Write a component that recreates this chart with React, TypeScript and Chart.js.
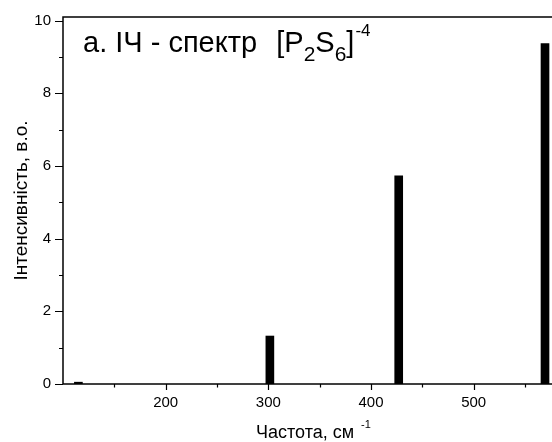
import React, { useEffect, useRef } from 'react';
import { Chart, registerables } from 'chart.js';

Chart.register(...registerables);

const frequencies = [115, 301.5, 427, 569.5];
const intensities = [0.05, 1.32, 5.73, 9.37];
const xMajorTicks = [200, 300, 400, 500];
const xMinorTicks = [150, 250, 350, 450, 550];
const yMajorTicks = [0, 2, 4, 6, 8, 10];
const yMinorTicks = [1, 3, 5, 7, 9];
const xTitle = 'Частота, см';
const xTitleSup = '-1';
const yTitle = 'Інтенсивність, в.о.';
const titleParts: { text: string; kind: 'n' | 'sub' | 'sup' }[] = [
  { text: 'а. ІЧ - спектр  ', kind: 'n' },
  { text: '[P', kind: 'n' },
  { text: '2', kind: 'sub' },
  { text: 'S', kind: 'n' },
  { text: '6', kind: 'sub' },
  { text: ']', kind: 'n' },
  { text: '-4', kind: 'sup' },
];

const FONT = '"Liberation Sans", Arial, sans-serif';

const decorPlugin = {
  id: 'decor',
  afterDraw(chart: any) {
    const ctx = chart.ctx;
    const area = chart.chartArea;
    const xs = chart.scales.x;
    const ys = chart.scales.y;
    ctx.save();
    ctx.strokeStyle = '#000';
    ctx.lineWidth = 1.5;
    ctx.strokeRect(area.left, area.top, area.right - area.left, area.bottom - area.top);
    ctx.lineWidth = 1.2;
    ctx.beginPath();
    xMajorTicks.forEach((v) => {
      const px = Math.round(xs.getPixelForValue(v)) + 0.5;
      ctx.moveTo(px, area.bottom);
      ctx.lineTo(px, area.bottom + 6);
    });
    xMinorTicks.forEach((v) => {
      const px = Math.round(xs.getPixelForValue(v)) + 0.5;
      ctx.moveTo(px, area.bottom);
      ctx.lineTo(px, area.bottom + 3.5);
    });
    yMajorTicks.forEach((v) => {
      const py = Math.round(ys.getPixelForValue(v)) + 0.5;
      ctx.moveTo(area.left, py);
      ctx.lineTo(area.left - 8, py);
    });
    yMinorTicks.forEach((v) => {
      const py = Math.round(ys.getPixelForValue(v)) + 0.5;
      ctx.moveTo(area.left, py);
      ctx.lineTo(area.left - 4, py);
    });
    ctx.stroke();

    ctx.fillStyle = '#000';
    ctx.textBaseline = 'alphabetic';
    ctx.textAlign = 'left';
    let x = area.left + 20;
    const base = 52;
    titleParts.forEach((p, i) => {
      if (p.kind === 'n') {
        ctx.font = `29px ${FONT}`;
        ctx.fillText(p.text, x, base);
        x += ctx.measureText(p.text).width;
        if (i === 0) x += 3;
      } else if (p.kind === 'sub') {
        ctx.font = `21px ${FONT}`;
        ctx.fillText(p.text, x, base + 9);
        x += ctx.measureText(p.text).width;
      } else {
        ctx.font = `17px ${FONT}`;
        ctx.fillText(p.text, x + 1, base - 16);
        x += ctx.measureText(p.text).width;
      }
    });

    ctx.font = `18px ${FONT}`;
    const xtx = 256;
    ctx.fillText(xTitle, xtx, 438);
    const w = ctx.measureText(xTitle).width;
    ctx.font = `11px ${FONT}`;
    ctx.fillText(xTitleSup, xtx + w + 7, 428);

    ctx.save();
    ctx.translate(27, (area.top + area.bottom) / 2);
    ctx.rotate(-Math.PI / 2);
    ctx.font = `19px ${FONT}`;
    ctx.textAlign = 'center';
    ctx.fillText(yTitle, 0, 0);
    ctx.restore();

    ctx.restore();
  },
};

export default function App() {
  const ref = useRef<HTMLCanvasElement | null>(null);
  useEffect(() => {
    if (!ref.current) return;
    const chart = new Chart(ref.current, {
      type: 'bar',
      data: {
        datasets: [
          {
            data: frequencies.map((f, i) => ({ x: f, y: intensities[i] })),
            backgroundColor: '#000',
            borderWidth: 0,
            barThickness: 8,
          },
        ],
      },
      options: {
        animation: false,
        responsive: false,
        devicePixelRatio: 1,
        layout: { padding: { top: 17, right: 6, left: 0, bottom: 0 } },
        plugins: { legend: { display: false }, tooltip: { enabled: false }, title: { display: false } },
        scales: {
          x: {
            type: 'linear',
            offset: false,
            min: 100,
            max: 588,
            grid: { display: false, drawTicks: false, offset: false },
            border: { display: false },
            ticks: {
              stepSize: 100,
              includeBounds: false,
              autoSkip: false,
              padding: 10,
              color: '#000',
              font: { family: FONT, size: 15 },
              maxRotation: 0,
              callback: (v: any) => (xMajorTicks.includes(Number(v)) ? String(v) : ''),
            },
            afterFit: (s: any) => {
              s.height = 58;
              s.paddingLeft = 0;
              s.paddingRight = 0;
            },
          },
          y: {
            type: 'linear',
            min: 0,
            max: 10.1,
            grid: { display: false, drawTicks: false },
            border: { display: false },
            ticks: {
              stepSize: 2,
              includeBounds: false,
              padding: 12,
              color: '#000',
              font: { family: FONT, size: 15 },
              callback: (v: any) => (yMajorTicks.includes(Number(v)) ? String(v) : ''),
            },
            afterFit: (s: any) => {
              s.width = 63;
              s.paddingTop = 0;
              s.paddingBottom = 0;
            },
          },
        },
      },
      plugins: [decorPlugin],
    });
    return () => chart.destroy();
  }, []);
  return (
    <div
      style={{
        position: 'fixed',
        left: 0,
        top: 0,
        width: 552,
        height: 442,
        overflow: 'hidden',
        background: '#fff',
      }}
    >
      <canvas ref={ref} width={570} height={442} style={{ width: 570, height: 442, display: 'block' }} />
    </div>
  );
}
